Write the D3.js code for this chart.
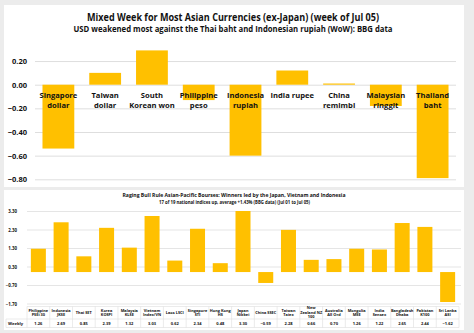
<!DOCTYPE html>
<html>
<head>
<meta charset="utf-8">
<script src="https://cdn.jsdelivr.net/npm/d3@7"></script>
<style>
  html, body { margin: 0; padding: 0; background: #ececec; }
  svg { display: block; }
  text { font-family: "Open Sans", sans-serif; font-weight: 700; fill: #111; }
</style>
</head>
<body>
<svg id="chart" width="474" height="333"></svg>
<script>
// Currency moves vs USD, week of Jul 05 (WoW %)
const currencies = ["Singapore\ndollar", "Taiwan\ndollar", "South\nKorean won", "Philippine\npeso",
  "Indonesia\nrupiah", "India rupee", "China\nremimbi", "Malaysian\nringgit", "Thailand\nbaht"];
const currencyChange = [-0.54, 0.10, 0.29, -0.13, -0.60, 0.12, 0.01, -0.18, -0.79];
const currencyTicks = [0.20, 0.00, -0.20, -0.40, -0.60, -0.80];

// Asia-Pacific equity indices, Jul 01 to Jul 05 (weekly %)
const bourses = ["Philippine\nPSEi 30", "Indonesia\nJKSE", "Thai SET", "Korea\nKOSPI", "Malaysia\nKLSE",
  "Vietnam\nIndex/VN", "Laos LSCI", "Singapore\nSTI", "Hong Kong\nHS", "Japan\nNikkei", "China SSEC",
  "Taiwan\nTaiex", "New\nZealand NZ\n100", "Australia\nAll Ord", "Mongolia\nMSE", "India\nSensex",
  "Bangladesh\nDhaka", "Pakistan\nK100", "Sri Lanka\nASI"];
const weekly = [1.26, 2.69, 0.85, 2.39, 1.32, 3.03, 0.62, 2.34, 0.48, 3.30, -0.59, 2.28, 0.66, 0.70,
  1.26, 1.22, 2.65, 2.44, -1.62];
const bourseTicks = [3.30, 2.30, 1.30, 0.30, -0.70, -1.70];

const gold = "#FFC000";
const gridColor = "#dedede";
const svg = d3.select("#chart");

// ---------- card backgrounds ----------
svg.append("rect").attr("x", 4).attr("y", 5).attr("width", 460).attr("height", 182)
  .attr("fill", "#fff");
svg.append("rect").attr("x", 4).attr("y", 190).attr("width", 460).attr("height", 140)
  .attr("fill", "#fff");

// ---------- top chart: currencies ----------
const x1 = d3.scaleBand().domain(currencies).range([35, 456]).paddingInner(0.32).paddingOuter(0.16);
const y1 = d3.scaleLinear().domain([-0.8, 0.3]).range([179.3, 179.3 - 1.1 * 118.25]);

svg.append("text").attr("x", 233).attr("y", 20.5).attr("text-anchor", "middle")
  .attr("font-size", 10).attr("textLength", 292).attr("lengthAdjust", "spacingAndGlyphs")
  .text("Mixed Week for Most Asian Currencies (ex-Japan) (week of Jul 05)");
svg.append("text").attr("x", 233).attr("y", 32).attr("text-anchor", "middle")
  .attr("font-size", 8).attr("textLength", 319).attr("lengthAdjust", "spacingAndGlyphs")
  .text("USD weakened most against the Thai baht and Indonesian rupiah (WoW): BBG data");

// gridlines
const g1grid = svg.append("g").attr("transform", "translate(35,0)")
  .call(d3.axisLeft(y1).tickValues(currencyTicks).tickSize(-421).tickFormat(""));
g1grid.select(".domain").remove();
g1grid.selectAll("line").attr("stroke", gridColor).attr("stroke-width", 1);

// tick labels
const g1 = svg.append("g").attr("transform", "translate(27,0)")
  .call(d3.axisLeft(y1).tickValues(currencyTicks).tickSize(0).tickPadding(0).tickFormat(d3.format(".2f")));
g1.select(".domain").remove();
g1.selectAll("text").attr("font-size", 7.5).attr("font-family", "Open Sans, sans-serif")
  .attr("font-weight", 700).attr("fill", "#111").attr("dy", "0.35em").attr("dx", 0);

svg.append("g").selectAll("rect").data(currencies).join("rect")
  .attr("x", d => x1(d))
  .attr("width", x1.bandwidth())
  .attr("y", (d, i) => y1(Math.max(0, currencyChange[i])))
  .attr("height", (d, i) => Math.abs(y1(currencyChange[i]) - y1(0)))
  .attr("fill", gold);

// category labels below the zero line
const lab1 = svg.append("g").selectAll("text").data(currencies).join("text")
  .attr("x", d => x1(d) + x1.bandwidth() / 2)
  .attr("y", 98)
  .attr("text-anchor", "middle")
  .attr("font-size", 7.6);
lab1.each(function (d) {
  const t = d3.select(this);
  d.split("\n").forEach((line, k) => {
    t.append("tspan").attr("x", x1(d) + x1.bandwidth() / 2).attr("dy", k === 0 ? 0 : 10).text(line);
  });
});

// ---------- bottom chart: bourses ----------
const x2 = d3.scaleBand().domain(bourses).range([27, 459]).paddingInner(0.34).paddingOuter(0.17);
const y2 = d3.scaleLinear().domain([-1.7, 3.3]).range([303.5, 211]);

svg.append("text").attr("x", 234).attr("y", 197.3).attr("text-anchor", "middle")
  .attr("font-size", 5.2).attr("textLength", 223).attr("lengthAdjust", "spacingAndGlyphs")
  .text("Raging Bull Rule Asian-Pacific Bourses: Winners led by the Japan, Vietnam and Indonesia");
svg.append("text").attr("x", 234.5).attr("y", 203.8).attr("text-anchor", "middle")
  .attr("font-size", 4.4).attr("textLength", 151).attr("lengthAdjust", "spacingAndGlyphs")
  .text("17 of 19 national indices up, average +1.43% (BBG data) (Jul 01 to Jul 05)");

const g2grid = svg.append("g").attr("transform", "translate(27,0)")
  .call(d3.axisLeft(y2).tickValues(bourseTicks).tickSize(-434).tickFormat(""));
g2grid.select(".domain").remove();
g2grid.selectAll("line").attr("stroke", gridColor).attr("stroke-width", 0.8);

const g2 = svg.append("g").attr("transform", "translate(17,0)")
  .call(d3.axisLeft(y2).tickValues(bourseTicks).tickSize(0).tickPadding(0).tickFormat(d3.format(".2f")));
g2.select(".domain").remove();
g2.selectAll("text").attr("font-size", 4.4).attr("font-family", "Open Sans, sans-serif")
  .attr("font-weight", 700).attr("fill", "#222").attr("dy", "0.35em");

svg.append("g").selectAll("rect").data(bourses).join("rect")
  .attr("x", d => x2(d))
  .attr("width", x2.bandwidth())
  .attr("y", (d, i) => y2(Math.max(0, weekly[i])))
  .attr("height", (d, i) => Math.abs(y2(weekly[i]) - y2(0)))
  .attr("fill", gold);

// data table under the bottom chart
const step = x2.step();
const tTop = 306.5, tMid = 319, tBot = 327.5;
const table = svg.append("g").attr("stroke", gridColor).attr("stroke-width", 0.6);
table.append("line").attr("x1", 27).attr("x2", 459).attr("y1", tTop).attr("y2", tTop);
table.append("line").attr("x1", 6).attr("x2", 459).attr("y1", tMid).attr("y2", tMid);
table.append("line").attr("x1", 6).attr("x2", 459).attr("y1", tBot).attr("y2", tBot);
table.append("line").attr("x1", 6).attr("x2", 6).attr("y1", tMid).attr("y2", tBot);
table.selectAll("line.col").data(d3.range(bourses.length + 1)).join("line")
  .attr("class", "col")
  .attr("x1", i => 27 + i * step).attr("x2", i => 27 + i * step)
  .attr("y1", tTop).attr("y2", tBot);

const head = svg.append("g").selectAll("text").data(bourses).join("text")
  .attr("text-anchor", "middle").attr("font-size", 3.9);
head.each(function (d) {
  const t = d3.select(this);
  const lines = d.split("\n");
  const cx = x2(d) + x2.bandwidth() / 2;
  const y0 = 313.8 - (lines.length - 1) * 2.25;
  lines.forEach((line, k) => {
    t.append("tspan").attr("x", cx).attr("y", y0 + k * 4.5).text(line);
  });
});

svg.append("g").selectAll("text").data(bourses).join("text")
  .attr("x", d => x2(d) + x2.bandwidth() / 2)
  .attr("y", 324.8)
  .attr("text-anchor", "middle").attr("font-size", 4)
  .text((d, i) => d3.format(".2f")(weekly[i]));

svg.append("text").attr("x", 8).attr("y", 324.8).attr("font-size", 4.2).text("Weekly");
</script>
</body>
</html>
